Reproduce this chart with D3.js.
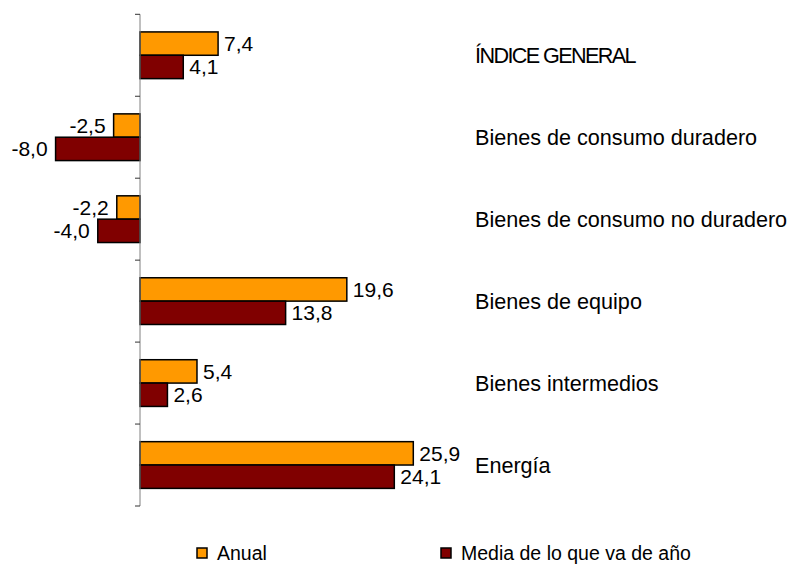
<!DOCTYPE html>
<html>
<head>
<meta charset="utf-8">
<script src="https://cdn.jsdelivr.net/npm/d3@7"></script>
<style>
  html, body { margin: 0; padding: 0; background: #fff; }
  svg { display: block; }
  text { font-family: "Liberation Sans", Arial, sans-serif; fill: #000; }
</style>
</head>
<body>
<svg id="chart" width="792" height="564"></svg>
<script>
const categories = ["ÍNDICE GENERAL", "Bienes de consumo duradero", "Bienes de consumo no duradero", "Bienes de equipo", "Bienes intermedios", "Energía"];
const anual = [7.4, -2.5, -2.2, 19.6, 5.4, 25.9];
const mediaAnio = [4.1, -8.0, -4.0, 13.8, 2.6, 24.1];
const seriesNames = ["Anual", "Media de lo que va de año"];
const seriesColors = ["#FF9900", "#800000"];

const svg = d3.select("#chart");
const fmt = v => d3.format(".1f")(v).replace(".", ",").replace("−", "-");

const x = d3.scaleLinear().domain([0, 25.9]).range([140, 413.3]);
const y = d3.scaleBand().domain(categories).range([14.3, 506]).paddingInner(0.43).paddingOuter(0.215);
const ySub = d3.scaleBand().domain([0, 1]).range([0, y.bandwidth()]);

const data = categories.map((c, i) => ({ cat: c, vals: [anual[i], mediaAnio[i]] }));

// bars
const groups = svg.append("g").selectAll("g").data(data).join("g")
  .attr("transform", d => `translate(0,${y(d.cat)})`);

groups.selectAll("rect").data(d => d.vals.map((v, k) => ({ v, k }))).join("rect")
  .attr("x", d => Math.min(x(0), x(d.v)))
  .attr("y", d => ySub(d.k))
  .attr("width", d => Math.abs(x(d.v) - x(0)))
  .attr("height", ySub.bandwidth())
  .attr("fill", d => seriesColors[d.k])
  .attr("stroke", "#000")
  .attr("stroke-width", 1.5);

groups.selectAll("text.val").data(d => d.vals.map((v, k) => ({ v, k }))).join("text")
  .attr("class", "val")
  .attr("x", d => d.v >= 0 ? x(d.v) + 6 : x(d.v) - 8)
  .attr("y", d => ySub(d.k) + ySub.bandwidth() / 2)
  .attr("dy", "0.35em")
  .attr("text-anchor", d => d.v >= 0 ? "start" : "end")
  .style("font-size", "21px")
  .text(d => fmt(d.v));

// axis: line at zero with ticks at category boundaries
const step = y.step();
const boundaries = d3.range(categories.length + 1).map(i => y.range()[0] + i * step);
const axisG = svg.append("g");
axisG.append("line")
  .attr("x1", x(0)).attr("x2", x(0))
  .attr("y1", boundaries[0]).attr("y2", boundaries[boundaries.length - 1])
  .attr("stroke", "#808080").attr("stroke-width", 1);
axisG.selectAll("line.tick").data(boundaries).join("line")
  .attr("class", "tick")
  .attr("x1", x(0) - 5).attr("x2", x(0))
  .attr("y1", d => d).attr("y2", d => d)
  .attr("stroke", "#333").attr("stroke-width", 1);

// category labels
svg.append("g").selectAll("text").data(categories).join("text")
  .attr("x", 475)
  .attr("y", d => y(d) + y.bandwidth() / 2)
  .attr("dy", "0.35em")
  .style("font-size", "21.6px")
  .style("letter-spacing", (d, i) => i === 0 ? "-1.6px" : "0px")
  .text(d => d);

// legend
const legendX = [197, 441];
const legend = svg.append("g").selectAll("g").data(seriesNames).join("g")
  .attr("transform", (d, i) => `translate(${legendX[i]},548)`);
legend.append("rect")
  .attr("width", 10).attr("height", 10)
  .attr("fill", (d, i) => seriesColors[i])
  .attr("stroke", "#000").attr("stroke-width", 1.5);
legend.append("text")
  .attr("x", 20).attr("y", 12)
  .style("font-size", "19.5px")
  .text(d => d);
</script>
</body>
</html>
